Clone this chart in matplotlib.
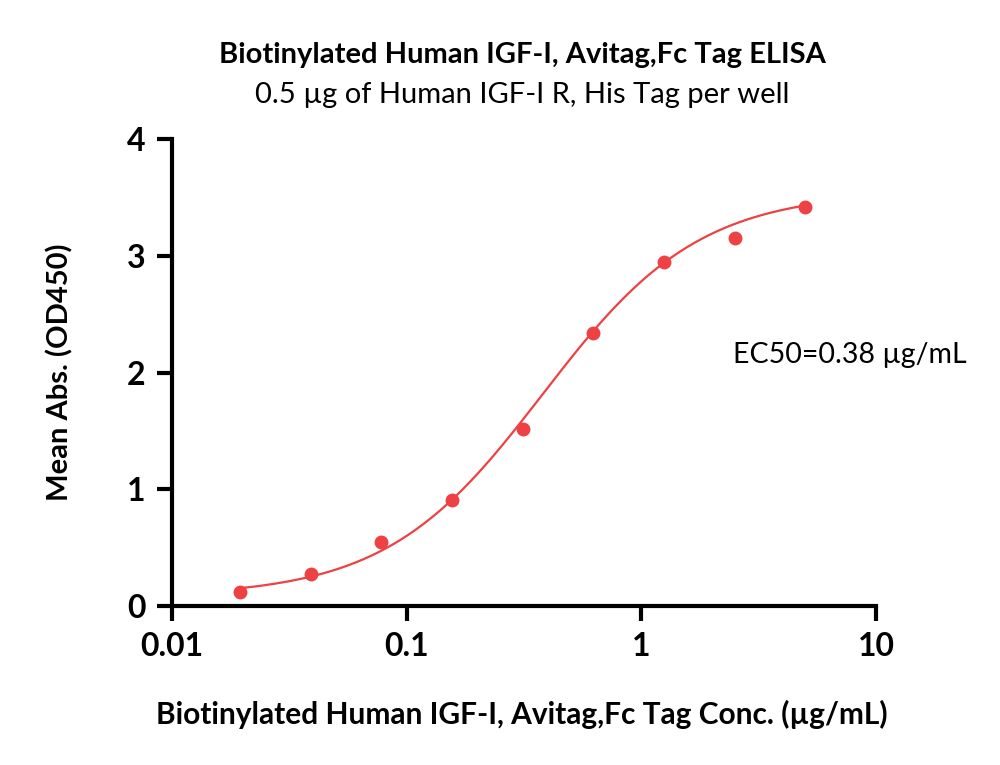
import numpy as np
import matplotlib.pyplot as plt

plt.rcParams['font.family'] = ['Lato', 'DejaVu Sans']

# measured points (conc in ug/mL, OD450)
conc = [0.0195, 0.039, 0.078, 0.156, 0.3125, 0.625, 1.25, 2.5, 5.0]
od450 = [0.12, 0.27, 0.55, 0.91, 1.52, 2.34, 2.95, 3.15, 3.42]

# 4PL fit parameters
bottom, top, ec50, hill = 0.08, 3.55, 0.38, 1.3

red = '#EE4144'

fig = plt.figure(figsize=(10, 7.65), dpi=100)
ax = fig.add_axes([0.172, 0.208, 0.704, 0.61])

xs = np.logspace(np.log10(conc[0]), np.log10(conc[-1]), 300)
fit = bottom + (top - bottom) / (1 + (ec50 / xs) ** hill)
ax.plot(xs, fit, color=red, lw=1.6)
ax.plot(conc, od450, 'o', color=red, ms=10, mec='none')

ax.set_xscale('log')
ax.set_xlim(0.01, 10)
ax.set_ylim(0, 4)
ax.set_xticks([0.01, 0.1, 1, 10])
ax.set_xticklabels(['0.01', '0.1', '1', '10'])
ax.set_yticks([0, 1, 2, 3, 4])
ax.xaxis.set_minor_locator(plt.NullLocator())

for s in ['top', 'right']:
    ax.spines[s].set_visible(False)
for s in ['left', 'bottom']:
    ax.spines[s].set_linewidth(3)
ax.tick_params(width=3, length=11, labelsize=23, pad=8)
for lab in ax.get_xticklabels() + ax.get_yticklabels():
    lab.set_fontweight('bold')

ax.text(0.797, 0.537, 'EC50=0.38 \u00b5g/mL', transform=ax.transAxes,
        fontsize=20.5, va='center', ha='left')

fig.text(0.522, 0.928, 'Biotinylated Human IGF-I, Avitag,Fc Tag ELISA',
         ha='center', va='center', fontsize=21, fontweight='bold')
fig.text(0.522, 0.876, '0.5 \u00b5g of Human IGF-I R, His Tag per well',
         ha='center', va='center', fontsize=21)
fig.text(0.522, 0.066, 'Biotinylated Human IGF-I, Avitag,Fc Tag Conc. (\u00b5g/mL)',
         ha='center', va='center', fontsize=21.5, fontweight='bold')
fig.text(0.06, 0.514, 'Mean Abs. (OD450)', rotation=90,
         ha='center', va='center', fontsize=21, fontweight='bold')

plt.savefig('out.png', dpi=100)
